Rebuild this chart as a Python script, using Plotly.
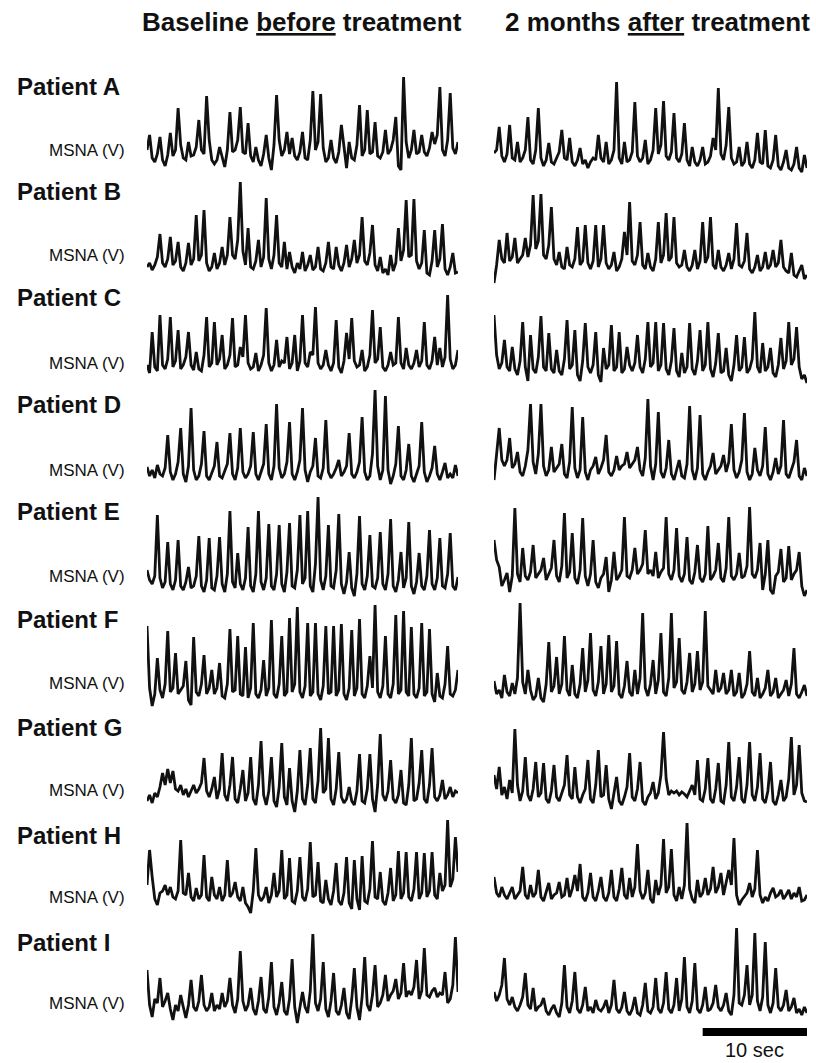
import numpy as np
import plotly.graph_objects as go

# ---------------- data (MSNA amplitude, arbitrary units, sampled every 0.25 s over 30 s) ----------------
sample_step_s = 0.25
patients = ["Patient A", "Patient B", "Patient C", "Patient D", "Patient E",
            "Patient F", "Patient G", "Patient H", "Patient I"]
column_titles = ["Baseline <u>before</u> treatment", "2 months <u>after</u> treatment"]
channel_label = "MSNA (V)"
scale_bar_seconds = 10
scale_bar_label = "10 sec"

a_before = [30,45,22,18,26,43,20,14,25,47, 24,30,72,35,22,20,38,24,25,33, 60,30,26,84,40,20,16,20,33,22,
            13,30,68,28,30,40,73,28,26,57, 24,18,33,20,14,26,45,22,10,35, 85,40,24,30,48,26,42,24,20,28,
            48,22,20,40,89,30,38,86,32,18, 22,40,22,17,28,55,30,12,38,22, 20,35,75,24,30,70,26,28,58,24,
            22,28,50,26,30,40,63,14,10,103, 38,22,30,50,26,28,45,28,24,32, 48,36,45,93,30,24,40,87,32,26, 38]
a_after = [27,30,53,24,18,26,55,22,20,38, 18,22,30,63,20,16,30,72,22,14, 20,37,18,16,22,28,50,22,20,42,
           18,14,20,32,16,20,12,18,22,20, 45,22,18,38,16,20,30,98,22,16, 38,18,20,28,78,24,18,22,40,16,
           20,30,72,26,35,79,24,20,28,67, 22,18,26,57,20,14,33,18,14,20, 33,16,18,24,42,30,92,26,20,35,
           73,22,16,18,33,14,18,38,16,12, 20,47,18,16,50,14,12,20,45,14, 10,18,30,12,10,16,33,12,8,25, 12]
b_before = [18,22,15,20,28,51,22,18,26,48, 20,24,43,18,14,22,42,20,26,70, 24,30,75,22,14,18,32,16,22,38,
            20,30,68,30,26,45,103,34,20,57, 18,16,24,45,18,28,87,26,16,30, 70,22,18,43,16,33,18,12,22,16,
            33,14,20,30,15,18,38,16,14,22, 43,18,16,38,20,14,22,40,18,26, 45,22,30,68,24,20,32,60,20,14,
            28,12,16,10,30,14,22,57,24,35, 85,28,30,86,24,16,22,55,12,10, 24,55,18,26,61,16,10,18,32,12, 13]
b_after = [2,20,45,26,22,52,24,28,47,22, 26,30,47,28,40,90,36,44,91,30, 26,40,78,26,20,33,18,16,38,20,
           18,26,58,20,24,60,22,16,24,60, 18,26,60,22,16,20,33,14,18,26, 53,30,83,24,20,30,63,20,16,32,
           18,14,26,63,22,30,72,24,28,68, 22,18,20,35,18,14,20,35,16,24, 63,22,28,68,20,16,35,18,14,20,
           32,16,26,62,20,18,24,52,16,12, 18,30,14,18,33,16,20,35,18,22, 45,18,14,12,32,10,8,14,20,6, 10]
c_before = [20,12,53,18,14,70,20,16,26,68, 18,24,55,16,20,28,53,20,15,33, 16,14,30,68,18,22,63,20,26,50,
            16,20,30,67,18,20,38,28,70,22, 16,18,32,14,20,30,77,22,14,20, 45,18,24,22,48,16,22,50,14,24,
            70,22,18,33,30,78,22,16,20,35, 20,14,22,65,18,12,24,52,26,67, 24,18,20,35,14,18,30,75,22,26,
            58,18,14,20,33,20,22,68,22,16, 37,20,16,22,35,18,24,63,20,16, 24,48,20,37,18,28,90,26,16,20, 35]
c_after = [70,30,16,22,45,18,14,38,16,10, 24,63,18,4,50,16,12,28,69,18, 14,52,16,12,35,14,10,26,65,16,
           20,55,10,4,24,62,18,12,20,53, 10,3,37,16,20,60,14,18,53,12, 16,38,20,14,22,50,18,12,26,63,
           18,22,63,14,20,62,16,10,24,57, 14,8,32,12,18,62,16,10,24,55, 14,20,63,16,8,22,52,12,14,37,
           10,4,20,50,14,18,48,12,16,26, 73,18,12,42,14,18,37,12,8,20, 47,16,24,63,20,26,58,18,6,10, 2]
d_before = [23,14,20,12,25,16,14,22,55,18, 10,16,28,62,16,8,24,82,20,10, 14,26,59,14,10,18,24,48,14,12,
            20,26,57,16,10,22,62,18,12,16, 24,58,16,10,18,26,66,16,10,24, 86,22,12,16,28,68,16,10,18,30,
            82,20,8,18,24,52,14,12,22,70, 18,12,16,22,30,14,18,24,57,16, 12,18,28,73,18,10,14,36,100,24,
            10,20,94,20,6,14,26,64,14,10, 20,46,14,8,16,24,68,18,8,14, 22,44,16,10,18,27,12,16,12,25, 14]
d_after = [10,34,62,30,24,30,52,22,26,38, 18,14,24,40,86,28,16,36,86,24, 14,20,43,18,22,26,46,16,12,28,
           83,22,12,20,73,18,10,20,24,33, 16,22,30,55,18,14,20,34,20,24, 26,38,22,26,30,43,20,14,32,91,
           24,10,26,78,18,12,22,50,16,10, 20,30,14,12,26,84,20,10,22,75, 16,10,18,24,37,16,20,24,35,18,
           28,66,20,12,18,30,77,18,10,16, 42,20,14,24,63,16,10,18,32,16, 24,70,16,12,20,28,50,14,10,22, 14]
e_before = [30,20,16,24,85,22,12,18,58,16, 10,20,60,14,10,18,33,12,14,24, 64,14,8,20,62,12,10,24,63,16,
            8,26,89,18,12,47,16,10,22,73, 14,8,26,89,18,10,22,76,14,10, 26,75,16,8,28,77,14,12,30,85,
            16,22,89,14,8,36,103,20,10,24, 75,14,12,30,86,16,6,18,48,12, 4,26,84,16,10,24,65,14,12,22,
            68,16,10,26,81,14,8,20,48,12, 22,78,14,6,18,47,14,10,24,70, 16,10,22,62,14,12,26,67,14,10, 23]
e_after = [60,40,33,14,20,27,8,24,92,26, 18,52,24,20,28,55,22,26,30,42, 20,26,32,60,24,18,34,87,22,28,
           67,22,16,30,82,24,14,26,60,18, 12,22,26,43,8,20,48,20,24,30, 83,24,22,30,52,26,30,36,70,26,
           30,24,48,22,28,32,83,26,20,30, 72,24,18,26,63,20,16,28,55,22, 18,26,74,20,24,30,57,22,18,32,
           83,24,20,26,47,22,24,34,93,26, 22,30,57,10,26,60,10,6,24,28, 51,18,22,54,20,26,30,48,14,4, 10]
f_before = [82,20,2,14,50,18,10,24,77,16, 20,55,14,18,22,47,8,3,71,16, 12,24,53,14,20,38,14,20,45,12,
            10,24,79,16,18,72,14,12,61,10, 20,85,14,10,18,48,12,20,88,14, 10,24,72,12,16,90,16,24,101,16,
            10,22,85,12,16,85,14,8,22,82, 14,16,82,12,18,84,14,8,20,78, 12,20,89,14,10,22,52,20,103,16,
            10,22,72,14,10,24,93,14,18,97, 16,12,81,14,10,20,85,12,16,79, 14,6,35,12,10,24,62,14,12,18, 38]
f_after = [27,14,18,10,33,16,12,25,14,30, 105,26,14,38,18,8,12,30,10,6, 24,66,16,22,51,14,24,72,18,12,
           43,14,10,24,60,16,28,75,18,12, 26,62,14,24,73,16,22,67,14,10, 22,47,16,12,38,14,30,95,20,12,
           24,48,14,28,75,16,12,30,95,20, 26,70,18,14,26,55,16,24,57,18, 26,97,22,18,14,38,16,20,35,14,
           18,38,12,16,35,10,14,24,57,16, 12,30,10,14,20,38,12,16,30,10, 14,18,28,12,24,60,14,10,16,23, 12]
g_before = [14,20,12,22,18,28,42,30,46,32, 44,26,24,30,20,26,18,24,30,22, 26,32,57,24,18,26,38,16,26,62,
            20,14,30,58,16,12,26,45,14,22, 58,16,10,30,74,20,10,24,58,14, 8,28,72,18,10,47,14,3,24,65,
            16,10,30,67,16,12,34,87,22,26, 77,16,10,26,63,18,12,16,28,14, 10,24,61,14,12,26,61,16,3,30,
            81,20,14,24,55,16,12,20,45,12, 10,30,77,14,16,32,65,16,12,30, 67,18,14,20,35,16,20,28,18,24, 22]
g_after = [40,26,48,20,28,16,35,22,86,30, 14,24,58,20,14,26,53,18,22,52, 16,12,24,50,18,14,22,30,60,20,
           16,48,18,12,20,26,55,16,12,30, 65,18,20,50,16,6,22,38,14,10, 18,28,62,18,14,26,53,14,10,18,
           22,33,16,22,40,83,36,20,24,22, 24,20,23,21,18,24,30,20,55,16, 14,26,57,16,12,26,52,14,12,30,
           73,18,14,28,58,16,12,30,73,20, 14,28,62,16,12,24,53,14,10,20, 35,14,18,36,78,20,30,70,22,14, 13]
h_before = [30,65,38,16,10,22,24,30,20,28, 18,16,24,75,22,20,42,18,14,27, 16,20,60,18,14,38,20,16,28,14,
            20,55,18,22,33,18,14,28,12,8, 2,24,67,20,14,18,28,12,20,42, 18,24,65,16,20,57,14,12,24,58,
            18,14,26,73,18,20,53,14,12,35, 16,10,24,52,14,10,22,58,12,6, 55,16,5,59,14,12,26,74,18,16,
            43,14,10,22,47,14,20,64,16,22, 63,18,14,26,63,16,22,62,18,24, 63,20,16,42,24,30,95,28,36,78, 43]
h_after = [38,22,18,28,20,16,22,28,16,20, 24,48,20,16,30,18,22,45,18,14, 22,32,16,20,22,33,18,20,37,18,
           26,40,24,51,18,14,22,42,18,14, 24,38,18,14,22,45,18,14,26,47, 20,16,37,18,28,71,24,16,22,45,
           16,12,35,20,30,76,22,28,66,20, 14,28,16,30,92,26,16,12,35,18, 22,37,20,26,48,22,28,42,20,34,
           45,30,77,20,10,15,18,22,32,18, 26,65,20,12,18,14,22,27,18,20, 25,16,20,25,16,22,18,28,14,15, 20]
i_before = [55,20,8,26,22,47,18,24,32,16, 5,20,14,30,18,7,20,45,18,14, 24,50,20,14,18,32,14,20,16,32,
            18,24,47,20,12,26,74,24,14,20, 37,16,10,24,48,16,12,28,63,18, 10,22,43,14,10,26,66,18,2,16,
            33,18,12,34,91,22,14,26,63,16, 8,24,52,14,10,20,37,12,6,26, 57,18,5,28,68,20,14,30,60,18,
            22,30,50,24,30,34,46,26,32,62, 28,34,30,38,65,26,34,77,30,28, 34,37,28,32,30,53,22,26,40,88, 33]
i_after = [33,24,30,40,67,26,20,28,18,14, 20,28,52,20,16,37,14,18,20,27, 14,10,16,20,12,8,22,60,18,12,
           24,53,16,12,20,38,14,18,12,25, 16,14,18,25,12,20,45,16,12,18, 33,14,10,16,28,12,10,20,42,14,
           12,18,47,16,12,22,53,16,12,20, 47,14,26,68,18,12,24,62,16,12, 20,38,14,16,22,40,18,14,20,32,
           14,10,30,97,22,20,30,60,20,30, 92,24,14,28,83,20,12,22,57,18, 14,20,35,14,18,27,12,16,10,18, 12]

before_series = [a_before, b_before, c_before, d_before, e_before, f_before, g_before, h_before, i_before]
after_series = [a_after, b_after, c_after, d_after, e_after, f_after, g_after, h_after, i_after]

# ---------------- layout constants (pixels) ----------------
W, H = 816, 1063
FONT = "Liberation Sans, Arial, sans-serif"
col_px = [(147, 458), (494, 807)]
row_bands = [(70, 110), (175, 110), (285, 100), (385, 105), (490, 110),
             (598, 110), (705, 110), (815, 100), (920, 105)]  # (top, height)
label_y = [86, 191, 298, 405, 512, 619, 727, 835, 942]
msna_y = [150, 255, 363, 470, 576, 683, 790, 897, 1003]

def px_x(x):
    return x / W

def px_y(y):
    return 1 - y / H

fig = go.Figure()
layout = {}
n = 0
for r in range(len(patients)):
    top, hgt = row_bands[r]
    for c, series in enumerate([before_series[r], after_series[r]]):
        n += 1
        t = np.arange(len(series)) * sample_step_s
        xa = "x" if n == 1 else f"x{n}"
        ya = "y" if n == 1 else f"y{n}"
        fig.add_trace(go.Scatter(x=t, y=series, mode="lines",
                                 line=dict(color="#111111", width=2.8),
                                 xaxis=xa, yaxis=ya, showlegend=False, hoverinfo="skip"))
        layout[f"xaxis{'' if n == 1 else n}"] = dict(
            domain=[px_x(col_px[c][0]), px_x(col_px[c][1])], range=[0, 30],
            visible=False, fixedrange=True, anchor=ya)
        layout[f"yaxis{'' if n == 1 else n}"] = dict(
            domain=[px_y(top + hgt), px_y(top)], range=[0, hgt],
            visible=False, fixedrange=True, anchor=xa)

annotations = []
# column titles
for c, title in enumerate(column_titles):
    cx = [302, 657][c]
    annotations.append(dict(text=f"<b>{title}</b>", x=px_x(cx), y=px_y(22), xref="paper", yref="paper",
                            xanchor="center", yanchor="middle", showarrow=False,
                            font=dict(family=FONT, size=26, color="#111111")))
for r, name in enumerate(patients):
    annotations.append(dict(text=f"<b>{name}</b>", x=px_x(15), y=px_y(label_y[r]), xref="paper", yref="paper",
                            xanchor="left", yanchor="middle", showarrow=False,
                            font=dict(family=FONT, size=24, color="#111111")))
    annotations.append(dict(text=channel_label, x=px_x(127), y=px_y(msna_y[r]), xref="paper", yref="paper",
                            xanchor="right", yanchor="middle", showarrow=False,
                            font=dict(family=FONT, size=17, color="#111111")))

# scale bar on the last (bottom-right) time axis
last_x = f"x{n}"
bar_end = 30
bar_start = bar_end - scale_bar_seconds
shapes = [dict(type="line", xref=last_x, yref="paper", x0=bar_start, x1=bar_end,
               y0=px_y(1032), y1=px_y(1032), line=dict(color="black", width=8))]
annotations.append(dict(text=scale_bar_label, x=(bar_start + bar_end) / 2, y=px_y(1050), xref=last_x, yref="paper",
                        xanchor="center", yanchor="middle", showarrow=False,
                        font=dict(family=FONT, size=20, color="#111111")))

fig.update_layout(width=W, height=H, margin=dict(l=0, r=0, t=0, b=0),
                  paper_bgcolor="white", plot_bgcolor="white",
                  annotations=annotations, shapes=shapes, **layout)
fig.write_html("out.html", config={"displayModeBar": False, "staticPlot": True},
               post_script="document.body.style.margin='0';document.body.style.padding='0';")
